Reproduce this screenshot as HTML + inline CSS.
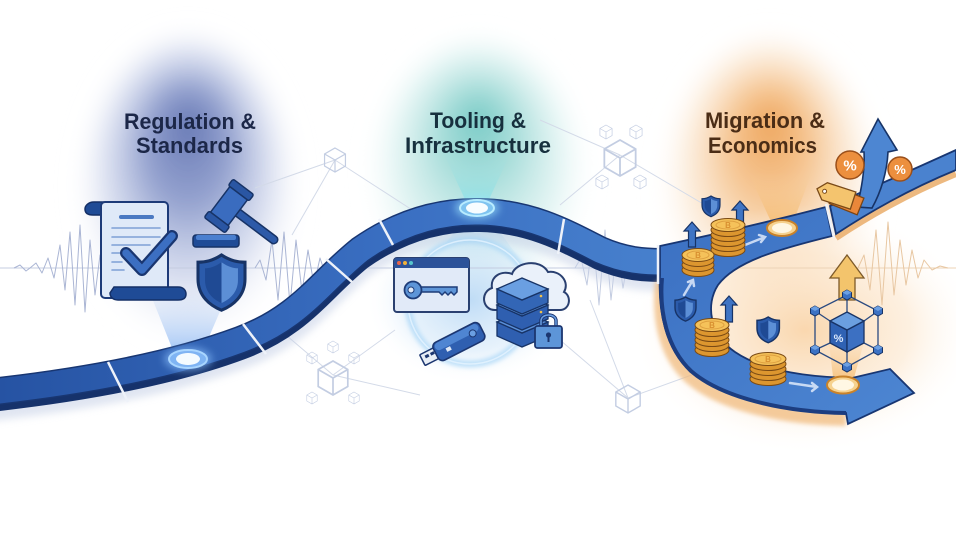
<!DOCTYPE html>
<html><head><meta charset="utf-8"><style>
html,body{margin:0;padding:0;background:#fff;width:956px;height:537px;overflow:hidden}
svg{display:block}
.h{font-family:"Liberation Sans",sans-serif;font-weight:bold;font-size:22px}
</style></head><body>
<svg width="956" height="537" viewBox="0 0 956 537" xmlns="http://www.w3.org/2000/svg">
<defs>
<radialGradient id="gl" cx=".5" cy=".5" fx=".5" fy=".3" r=".5"><stop offset="0" stop-color="#6577b4" stop-opacity="1"/><stop offset=".35" stop-color="#8191c6" stop-opacity=".85"/><stop offset=".7" stop-color="#b8c3e3" stop-opacity=".5"/><stop offset="1" stop-color="#fff" stop-opacity="0"/></radialGradient>
<radialGradient id="gm" cx=".5" cy=".5" fx=".5" fy=".3" r=".5"><stop offset="0" stop-color="#74c9c4" stop-opacity="1"/><stop offset=".35" stop-color="#9ad8d4" stop-opacity=".8"/><stop offset=".7" stop-color="#c9ebe9" stop-opacity=".5"/><stop offset="1" stop-color="#fff" stop-opacity="0"/></radialGradient>
<radialGradient id="gb"><stop offset="0" stop-color="#b8d8f5" stop-opacity=".9"/><stop offset=".6" stop-color="#d6e9f9" stop-opacity=".6"/><stop offset="1" stop-color="#fff" stop-opacity="0"/></radialGradient>
<radialGradient id="go" cx=".5" cy=".5" fx=".5" fy=".3" r=".5"><stop offset="0" stop-color="#eea45a" stop-opacity="1"/><stop offset=".35" stop-color="#f4bd82" stop-opacity=".85"/><stop offset=".7" stop-color="#f9dcbc" stop-opacity=".5"/><stop offset="1" stop-color="#fff" stop-opacity="0"/></radialGradient>
<radialGradient id="go2"><stop offset="0" stop-color="#f9d3a6" stop-opacity=".9"/><stop offset=".6" stop-color="#fce6cc" stop-opacity=".6"/><stop offset="1" stop-color="#fff" stop-opacity="0"/></radialGradient>
<linearGradient id="rg" gradientUnits="userSpaceOnUse" x1="0" y1="0" x2="662" y2="0"><stop offset="0" stop-color="#2653a3"/><stop offset=".6" stop-color="#3a6fc2"/><stop offset="1" stop-color="#4780cd"/></linearGradient>
<linearGradient id="cg" x1="0" y1="0" x2="1" y2="1"><stop offset="0" stop-color="#3b70c2"/><stop offset="1" stop-color="#4d86d2"/></linearGradient>
<linearGradient id="bl" x1="0" y1="1" x2="0" y2="0"><stop offset="0" stop-color="#6ea6f0" stop-opacity=".7"/><stop offset="1" stop-color="#9fbff0" stop-opacity="0"/></linearGradient>
<linearGradient id="bt" x1="0" y1="1" x2="0" y2="0"><stop offset="0" stop-color="#7fe0e6" stop-opacity=".8"/><stop offset="1" stop-color="#a8e0e0" stop-opacity="0"/></linearGradient>
<linearGradient id="btd" x1="0" y1="0" x2="0" y2="1"><stop offset="0" stop-color="#8fd4f0" stop-opacity=".7"/><stop offset="1" stop-color="#bfe0f5" stop-opacity="0"/></linearGradient>
<linearGradient id="bo" x1="0" y1="1" x2="0" y2="0"><stop offset="0" stop-color="#f4b25a" stop-opacity=".8"/><stop offset="1" stop-color="#f8cf9a" stop-opacity="0"/></linearGradient>
<filter id="bl4" x="-50%" y="-50%" width="200%" height="200%"><feGaussianBlur stdDeviation="4"/></filter>
<filter id="bl2" x="-50%" y="-50%" width="200%" height="200%"><feGaussianBlur stdDeviation="2"/></filter>
<filter id="bl12" x="-50%" y="-50%" width="200%" height="200%"><feGaussianBlur stdDeviation="10"/></filter>
<g id="cb" fill="none" stroke="#c3cde2" stroke-width="1"><path d="M0,-10 L8.7,-5 L8.7,5 L0,10 L-8.7,5 L-8.7,-5 Z M0,0 L0,10 M0,0 L8.7,-5 M0,0 L-8.7,-5"/></g>
<g id="sh"><path d="M10,0 C14,2.5 17,3 20,3 L20,10 C20,17 15,21 10,23 C5,21 0,17 0,10 L0,3 C3,3 6,2.5 10,0 Z" fill="#2b5bab" stroke="#173366" stroke-width="1.3"/><path d="M10,3 C13,5 15,5.5 17,5.5 L17,10.5 C17,15.5 13.5,18.5 10,20 Z" fill="#5c8fd6"/><path d="M10,3 C7,5 5,5.5 3,5.5 L3,10.5 C3,15.5 6.5,18.5 10,20 Z" fill="#1f4a94"/></g>
<g id="nc"><path d="M0,-5 L4.5,-2.5 L4.5,2.5 L0,5 L-4.5,2.5 L-4.5,-2.5 Z" fill="#3c72c4" stroke="#173366" stroke-width="1"/><path d="M0,-5 L4.5,-2.5 L0,0 L-4.5,-2.5 Z" fill="#6da0e2"/></g>
</defs>

<rect width="956" height="537" fill="#fff"/>
<!-- glows -->
<ellipse cx="188" cy="188" rx="118" ry="165" fill="url(#gl)" filter="url(#bl12)"/>
<ellipse cx="478" cy="175" rx="118" ry="148" fill="url(#gm)" filter="url(#bl12)"/>
<ellipse cx="470" cy="300" rx="105" ry="85" fill="url(#gb)"/>
<ellipse cx="770" cy="185" rx="118" ry="160" fill="url(#go)" filter="url(#bl12)"/>
<ellipse cx="805" cy="330" rx="175" ry="125" fill="url(#go2)"/>

<!-- waves -->
<g fill="none" stroke-linejoin="round">
<path d="M0,268 H640" stroke="#c4cce0" stroke-width="1"/>
<path d="M640,268 H956" stroke="#ecd3b6" stroke-width="1"/>
<polyline stroke="#aab5d4" stroke-width="1" points="14,268 20,265 26,271 30,268 36,263 42,273 48,258 54,278 60,245 65,290 70,232 75,305 80,225 85,312 90,240 95,295 100,255 105,280 110,268"/>
<polyline stroke="#aab5d4" stroke-width="1" points="255,268 260,260 266,280 272,240 278,300 284,232 290,305 296,240 302,292 308,250 314,285 320,258 326,276 334,268"/>
<polyline stroke="#c2cbe0" stroke-width="1" points="575,268 581,258 587,285 593,235 599,305 605,230 611,300 617,245 623,288 629,255 635,280 641,262 650,268"/>
<polyline stroke="#e8c7a2" stroke-width="1" points="858,268 864,255 870,290 876,230 882,305 888,222 894,295 900,240 906,285 912,250 918,278 924,260 932,270 940,266 948,268"/>
</g>

<!-- faint network -->
<g stroke="#d3dae8" stroke-width="1" fill="none">
<path d="M335,160 L255,188 M335,160 L292,235 M335,160 L420,215 M620,155 L560,205 M620,155 L705,205 M620,155 L540,120 M333,375 L395,330 M333,375 L280,330 M628,398 L560,340 M628,398 L700,372 M628,398 L590,300 M333,375 L420,395"/>
</g>
<use href="#cb" transform="translate(335,160) scale(1.2)"/>
<use href="#cb" transform="translate(620,158) scale(1.8)"/>
<use href="#cb" transform="translate(606,132) scale(.7)"/>
<use href="#cb" transform="translate(636,132) scale(.7)"/>
<use href="#cb" transform="translate(602,182) scale(.7)"/>
<use href="#cb" transform="translate(640,182) scale(.7)"/>
<use href="#cb" transform="translate(333,378) scale(1.7)"/>
<use href="#cb" transform="translate(312,358) scale(.6)"/>
<use href="#cb" transform="translate(354,358) scale(.6)"/>
<use href="#cb" transform="translate(312,398) scale(.6)"/>
<use href="#cb" transform="translate(354,398) scale(.6)"/>
<use href="#cb" transform="translate(333,347) scale(.6)"/>
<use href="#cb" transform="translate(628,399) scale(1.4)"/>

<!-- beams -->
<polygon points="176,358 200,358 230,288 148,288" fill="url(#bl)"/>
<polygon points="469,208 485,208 512,150 442,150" fill="url(#bt)"/>
<polygon points="469,212 485,212 522,262 432,262" fill="url(#btd)"/>
<polygon points="774,228 791,228 812,172 748,172" fill="url(#bo)"/>
<polygon points="834,385 852,385 866,335 828,335" fill="url(#bo)"/>

<!-- left road -->
<g fill="none">
<path d="M-10,392 C80,382 170,366 240,340 C300,318 320,282 360,250 C400,222 440,211 480,212 C530,213 565,232 600,250 C625,261 645,262 662,262" stroke="#c6d0e6" stroke-width="34" opacity=".55" transform="translate(0,12)" filter="url(#bl4)"/>
<path d="M-10,392 C80,382 170,366 240,340 C300,318 320,282 360,250 C400,222 440,211 480,212 C530,213 565,232 600,250 C625,261 645,262 662,262" stroke="#16326b" stroke-width="28" transform="translate(0,6)"/>
<path d="M-10,392 C80,382 170,366 240,340 C300,318 320,282 360,250 C400,222 440,211 480,212 C530,213 565,232 600,250 C625,261 645,262 662,262" stroke="#183672" stroke-width="28"/>
<path d="M-10,392 C80,382 170,366 240,340 C300,318 320,282 360,250 C400,222 440,211 480,212 C530,213 565,232 600,250 C625,261 645,262 662,262" stroke="url(#rg)" stroke-width="25"/>
</g>

<!-- right C road -->
<path d="M662,275 C658,310 665,347 690,370 C720,396 780,411 846,412" fill="none" stroke="#f0b878" stroke-width="14" opacity=".7" transform="translate(0,7)" filter="url(#bl2)"/>
<path d="M836,234 Q895,195 956,170" fill="none" stroke="#e8a860" stroke-width="6" opacity=".8" transform="translate(0,4)"/>
<path d="M660,246 Q745,228 826,207 L832,236 C775,250 735,262 718,285 C705,305 710,335 735,352 C760,369 800,377 852,378 L890,369 L914,393 L848,424 L846,413 C780,412 720,397 690,371 C665,348 658,310 660,275 Z" fill="url(#cg)" stroke="#183672" stroke-width="1.8"/>
<path d="M662,278 C659,312 667,348 691,371 C721,397 781,412 846,413" fill="none" stroke="#1c3d80" stroke-width="4"/>
<path d="M830,206 Q890,180 956,150 L956,170 Q895,195 836,234 Z" fill="#4a82cf" stroke="#183672" stroke-width="1.8"/>

<!-- joints -->
<g stroke="#eef2f9" stroke-width="2.5">
<line x1="108" y1="362" x2="128" y2="402"/>
<line x1="243" y1="324" x2="266" y2="354"/>
<line x1="326" y1="259" x2="352" y2="282"/>
<line x1="379" y1="219" x2="393" y2="245"/>
<line x1="564" y1="219" x2="558" y2="254"/>
<line x1="658" y1="245" x2="658" y2="284"/>
<line x1="826" y1="204" x2="834" y2="238"/>
</g>

<!-- white flow arrows -->
<g stroke="#dfeafa" stroke-width="2.5" fill="none" opacity=".85" stroke-linecap="round">
<path d="M684,295 L693,280 M688,282 L693,280 L694,286"/>
<path d="M745,245 L765,237 M759,235 L765,237 L761,242"/>
<path d="M790,383 L817,387 M812,383 L817,387 L812,391"/>
</g>

<!-- nodes -->
<ellipse cx="188" cy="359" rx="24" ry="12" fill="#8ec3ff" opacity=".6" filter="url(#bl4)"/>
<ellipse cx="188" cy="359" rx="19" ry="9" fill="#7fb4f3" stroke="#a9d6ff" stroke-width="2"/>
<ellipse cx="188" cy="359" rx="12" ry="6" fill="#f4fbff"/>
<ellipse cx="477" cy="208" rx="22" ry="11" fill="#9fe6ff" opacity=".6" filter="url(#bl4)"/>
<ellipse cx="477" cy="208" rx="17" ry="8" fill="#7fc4f0" stroke="#b8ecff" stroke-width="2"/>
<ellipse cx="477" cy="208" rx="11" ry="5.5" fill="#f7fdff"/>
<ellipse cx="782" cy="228" rx="15" ry="8" fill="#f6d28f" stroke="#c9822a" stroke-width="2"/>
<ellipse cx="782" cy="228" rx="10" ry="5" fill="#fff7e4"/>
<ellipse cx="843" cy="385" rx="16" ry="8.5" fill="#f6d28f" stroke="#c9822a" stroke-width="2"/>
<ellipse cx="843" cy="385" rx="11" ry="5.5" fill="#fff7e4"/>

<!-- LEFT ICONS: document -->
<path d="M104,202 L94,202 C88,202 85,206 85,209 C85,213 88,215 93,215 L104,215 Z" fill="#1f4b96" stroke="#142f66" stroke-width="1.5"/>
<rect x="101" y="202" width="67" height="96" rx="4" fill="#dfe9f8" stroke="#1d3a78" stroke-width="2"/>
<path d="M114,287 L178,287 C184,287 186,291 186,294 C186,298 183,300 178,300 L118,300 C113,300 110,297 110,293 Z" fill="#1f4b96" stroke="#142f66" stroke-width="1.5"/>
<g stroke-linecap="round" fill="none">
<line x1="121" y1="217" x2="152" y2="217" stroke="#4b79c2" stroke-width="4"/>
<line x1="112" y1="228" x2="160" y2="228" stroke="#7f9fd6" stroke-width="1.6"/>
<line x1="112" y1="237" x2="160" y2="237" stroke="#7f9fd6" stroke-width="1.6"/>
<line x1="112" y1="245" x2="150" y2="245" stroke="#7f9fd6" stroke-width="1.6"/>
<line x1="112" y1="253" x2="120" y2="253" stroke="#7f9fd6" stroke-width="1.6"/>
<line x1="112" y1="262" x2="122" y2="262" stroke="#7f9fd6" stroke-width="1.6"/>
<line x1="112" y1="270" x2="124" y2="270" stroke="#7f9fd6" stroke-width="1.6"/>
<polyline points="126,253 142,270 172,236" stroke="#1a3670" stroke-width="12" stroke-linejoin="round"/>
<polyline points="126,253 142,270 172,236" stroke="#3c6fc2" stroke-width="7.5" stroke-linejoin="round"/>
</g>
<!-- gavel -->
<g transform="translate(229,206) rotate(37)">
<rect x="4" y="-4" width="56" height="8" rx="4" fill="#2d5aa8" stroke="#173366" stroke-width="1.5"/>
<rect x="-11" y="-20" width="22" height="40" rx="3" fill="#3a6cbf" stroke="#173366" stroke-width="1.5"/>
<rect x="-13" y="-24" width="26" height="8" rx="2" fill="#2a56a3" stroke="#173366" stroke-width="1.5"/>
<rect x="-13" y="16" width="26" height="8" rx="2" fill="#2a56a3" stroke="#173366" stroke-width="1.5"/>
</g>
<rect x="193" y="235" width="46" height="12" rx="3" fill="#1f4b96" stroke="#173366" stroke-width="1.5"/>
<rect x="196" y="235" width="40" height="5" rx="2" fill="#4a7fcf"/>
<use href="#sh" transform="translate(198,255) scale(2.35,2.4)"/>

<!-- MIDDLE ICONS -->
<circle cx="470" cy="302" r="62" fill="none" stroke="#a8d6f7" stroke-width="7" opacity=".7" filter="url(#bl2)"/>
<circle cx="470" cy="302" r="62" fill="none" stroke="#e6f4ff" stroke-width="1.5" opacity=".8"/>
<rect x="394" y="258" width="75" height="54" rx="3" fill="#e1eaf8" stroke="#2a4070" stroke-width="2"/>
<path d="M394,268 L394,261 Q394,258 397,258 L466,258 Q469,258 469,261 L469,268 Z" fill="#2c5299"/>
<circle cx="399" cy="263" r="2" fill="#e8664b"/><circle cx="405" cy="263" r="2" fill="#f0b23a"/><circle cx="411" cy="263" r="2" fill="#56c6cc"/>
<path d="M420,287 L457,287 L457,292 L454,295 L451,292 L448,295 L445,292 L442,295 L439,292 L420,292 Z" fill="#5d95d8" stroke="#1e3c78" stroke-width="1.5"/>
<circle cx="413" cy="290" r="8.5" fill="#5d95d8" stroke="#1e3c78" stroke-width="1.8"/>
<circle cx="411" cy="290" r="3" fill="#e1eaf8" stroke="#1e3c78" stroke-width="1"/>
<path d="M495,310 C482,310 480,292 492,288 C490,276 502,270 512,274 C516,262 540,258 548,272 C560,270 570,282 564,292 C572,296 570,310 560,310 Z" fill="#eaf1fa" stroke="#2a4070" stroke-width="2"/>
<g stroke="#173366" stroke-width="1.3">
<path d="M497,322 L522,333 L548,322 L548,336 L522,347 L497,336 Z" fill="#2f5fb0"/>
<path d="M497,322 L522,311 L548,322 L522,333 Z" fill="#5a8fd8"/>
<path d="M497,305 L522,316 L548,305 L548,319 L522,330 L497,319 Z" fill="#2f5fb0"/>
<path d="M497,305 L522,294 L548,305 L522,316 Z" fill="#5a8fd8"/>
<path d="M497,289 L522,300 L548,289 L548,303 L522,314 L497,303 Z" fill="#3366b6"/>
<path d="M497,289 L522,278 L548,289 L522,300 Z" fill="#6a9fe2"/>
</g>
<g fill="#f1c14a"><circle cx="541" cy="296" r="1.3"/><circle cx="541" cy="312" r="1.3"/><circle cx="541" cy="329" r="1.3"/></g>
<path d="M541,327 L541,321 C541,313 556,313 556,321 L556,327" fill="none" stroke="#1c3670" stroke-width="3.5"/>
<path d="M541,327 L541,321 C541,313 556,313 556,321 L556,327" fill="none" stroke="#6a9fe2" stroke-width="1.5"/>
<rect x="535" y="326" width="27" height="22" rx="2.5" fill="#5d95d8" stroke="#1c3670" stroke-width="1.8"/>
<circle cx="548.5" cy="335" r="2.6" fill="#1c3670"/><rect x="547.5" y="336" width="2" height="6" fill="#1c3670"/>
<g transform="translate(458,342) rotate(-27)">
<rect x="-40" y="-6" width="17" height="12" rx="1" fill="#e8eef6" stroke="#1c3670" stroke-width="1.5"/>
<rect x="-36" y="-3" width="4" height="3" fill="#1c3670"/><rect x="-30" y="-3" width="4" height="3" fill="#1c3670"/>
<rect x="-25" y="-10" width="52" height="20" rx="5" fill="#2f5fb0" stroke="#1c3670" stroke-width="1.6"/>
<rect x="-23" y="-9" width="48" height="8" rx="4" fill="#4f85d2"/>
<circle cx="17" cy="-1" r="3.5" fill="#6a9fe2" stroke="#1c3670" stroke-width="1"/>
<rect x="-14" y="0" width="5" height="4" fill="#dfe8f5"/>
</g>

<!-- RIGHT ICONS -->
<path d="M857,207 C862,187 865,168 864,152 L861,152 L878,119 L897,150 L888,152 C887,172 881,192 872,208 Z" fill="#4d86d2" stroke="#173366" stroke-width="1.6"/>
<g transform="translate(842,199) rotate(22)">
<polygon points="-18,0 -10,-9 20,-9 20,9 -10,9" fill="#e9873a" stroke="#7a4414" stroke-width="1.3"/>
</g>
<g transform="translate(836,195) rotate(18)">
<polygon points="-20,0 -12,-9 18,-9 18,9 -12,9" fill="#f4c46e" stroke="#7a4a18" stroke-width="1.3"/>
<circle cx="-12" cy="0" r="2" fill="#fff" stroke="#7a4a18" stroke-width="1"/>
</g>
<circle cx="850" cy="165" r="14" fill="#ec8f3e" stroke="#9a4f1a" stroke-width="1.5"/>
<text x="850" y="170.5" font-family="Liberation Sans,sans-serif" font-size="15" font-weight="bold" fill="#fff" text-anchor="middle">%</text>
<circle cx="900" cy="169" r="12" fill="#ec8f3e" stroke="#9a4f1a" stroke-width="1.5"/>
<text x="900" y="174" font-family="Liberation Sans,sans-serif" font-size="13" font-weight="bold" fill="#fff" text-anchor="middle">%</text>

<g fill="#3f74c4" stroke="#173366" stroke-width="1.2">
<polygon points="692,222 700,231 695.5,231 695.5,247 688.5,247 688.5,231 684,231"/>
<polygon points="740,201 748,210 743.5,210 743.5,227 736.5,227 736.5,210 732,210"/>
<polygon points="729,296 737,305 732.5,305 732.5,322 725.5,322 725.5,305 721,305"/>
</g>
<use href="#sh" transform="translate(702,196) scale(.9)"/>
<use href="#sh" transform="translate(675,297) scale(1.05)"/>
<use href="#sh" transform="translate(757,317) scale(1.12)"/>

<g stroke="#7a4a14" stroke-width="1">
<g fill="#dc962f">
<ellipse cx="698" cy="270" rx="16" ry="6.5"/><ellipse cx="698" cy="265" rx="16" ry="6.5"/><ellipse cx="698" cy="260" rx="16" ry="6.5"/>
<ellipse cx="728" cy="250" rx="17" ry="6.5"/><ellipse cx="728" cy="245" rx="17" ry="6.5"/><ellipse cx="728" cy="240" rx="17" ry="6.5"/><ellipse cx="728" cy="235" rx="17" ry="6.5"/><ellipse cx="728" cy="230" rx="17" ry="6.5"/>
<ellipse cx="712" cy="350" rx="17" ry="6.5"/><ellipse cx="712" cy="345" rx="17" ry="6.5"/><ellipse cx="712" cy="340" rx="17" ry="6.5"/><ellipse cx="712" cy="335" rx="17" ry="6.5"/><ellipse cx="712" cy="330" rx="17" ry="6.5"/>
<ellipse cx="768" cy="379" rx="18" ry="6.5"/><ellipse cx="768" cy="374" rx="18" ry="6.5"/><ellipse cx="768" cy="369" rx="18" ry="6.5"/><ellipse cx="768" cy="364" rx="18" ry="6.5"/>
</g>
<g fill="#f5c25a">
<ellipse cx="698" cy="255" rx="16" ry="6.5"/>
<ellipse cx="728" cy="225" rx="17" ry="6.5"/>
<ellipse cx="712" cy="325" rx="17" ry="6.5"/>
<ellipse cx="768" cy="359" rx="18" ry="6.5"/>
</g>
</g>
<g fill="none" stroke="#dea040" stroke-width="1">
<ellipse cx="698" cy="255" rx="11" ry="4"/><ellipse cx="728" cy="225" rx="12" ry="4"/><ellipse cx="712" cy="325" rx="12" ry="4"/><ellipse cx="768" cy="359" rx="13" ry="4"/>
</g>
<g font-family="Liberation Sans,sans-serif" font-size="8" font-weight="bold" fill="#d88f30" text-anchor="middle">
<text x="698" y="258">B</text><text x="728" y="228">B</text><text x="712" y="328">B</text><text x="768" y="362">B</text>
</g>

<polygon points="847,255 864,278 855,278 855,300 839,300 839,278 830,278" fill="#f3c46c" stroke="#7d5a2a" stroke-width="1.3"/>
<g stroke="#2a4a80" stroke-width="1.3" fill="none">
<path d="M847,295 L878,311 L878,350 L847,367 L815,350 L815,311 Z"/>
<path d="M847,295 L847,312 M878,311 L864,321 M815,311 L830,321 M878,350 L864,343 M815,350 L830,343 M847,367 L847,352"/>
</g>
<path d="M830,321 L847,330 L847,352 L830,343 Z" fill="#2f62b4" stroke="#173366" stroke-width="1.3"/>
<path d="M847,330 L864,321 L864,343 L847,352 Z" fill="#3c70c2" stroke="#173366" stroke-width="1.3"/>
<path d="M847,312 L864,321 L847,330 L830,321 Z" fill="#6b9fe0" stroke="#173366" stroke-width="1.3"/>
<text x="838.5" y="342" font-family="Liberation Sans,sans-serif" font-size="11" font-weight="bold" fill="#dbe8fb" text-anchor="middle">%</text>
<use href="#nc" transform="translate(847,295)"/><use href="#nc" transform="translate(878,311)"/><use href="#nc" transform="translate(878,350)"/>
<use href="#nc" transform="translate(847,367)"/><use href="#nc" transform="translate(815,350)"/><use href="#nc" transform="translate(815,311)"/>

<!-- headings -->
<text class="h" x="124" y="129" textLength="132" lengthAdjust="spacingAndGlyphs" fill="#1c2748">Regulation &amp;</text>
<text class="h" x="136" y="153" textLength="107" lengthAdjust="spacingAndGlyphs" fill="#1c2748">Standards</text>
<text class="h" x="430" y="128" textLength="96" lengthAdjust="spacingAndGlyphs" fill="#17303e">Tooling &amp;</text>
<text class="h" x="405" y="153" textLength="146" lengthAdjust="spacingAndGlyphs" fill="#17303e">Infrastructure</text>
<text class="h" x="705" y="128" textLength="120" lengthAdjust="spacingAndGlyphs" fill="#4b2d16">Migration &amp;</text>
<text class="h" x="708" y="153" textLength="109" lengthAdjust="spacingAndGlyphs" fill="#4b2d16">Economics</text>
</svg>
</body></html>
